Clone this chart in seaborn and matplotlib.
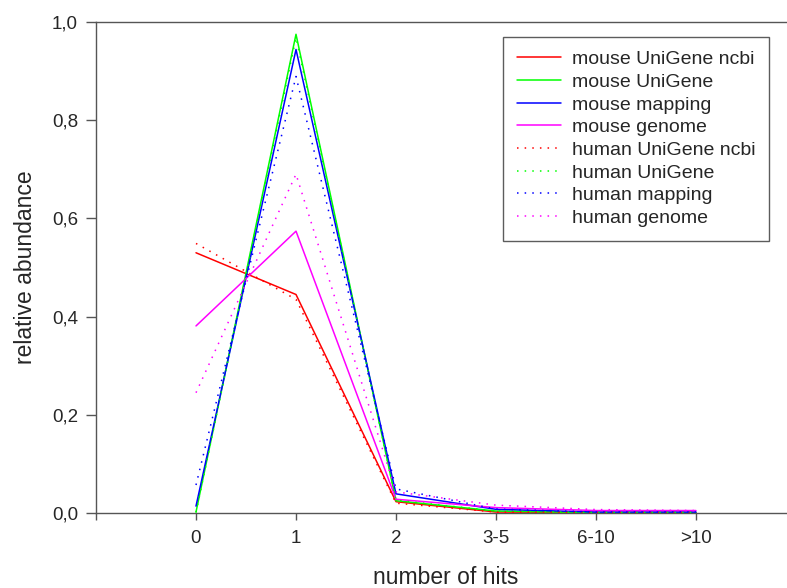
import matplotlib
matplotlib.use("Agg")
import matplotlib.pyplot as plt
import seaborn as sns
import pandas as pd

categories = ["0", "1", "2", "3-5", "6-10", ">10"]

mouse_unigene_ncbi = [0.530, 0.445, 0.023, 0.002, 0.001, 0.001]
mouse_unigene      = [0.002, 0.975, 0.025, 0.004, 0.001, 0.001]
mouse_mapping      = [0.014, 0.944, 0.039, 0.0075, 0.002, 0.002]
mouse_genome       = [0.381, 0.574, 0.028, 0.011, 0.005, 0.005]
human_unigene_ncbi = [0.549, 0.435, 0.020, 0.002, 0.001, 0.001]
human_unigene      = [0.001, 0.968, 0.026, 0.004, 0.001, 0.001]
human_mapping      = [0.057, 0.889, 0.049, 0.008, 0.002, 0.002]
human_genome       = [0.245, 0.690, 0.043, 0.016, 0.007, 0.005]

series_names = ["mouse UniGene ncbi", "mouse UniGene", "mouse mapping", "mouse genome",
                "human UniGene ncbi", "human UniGene", "human mapping", "human genome"]
series_values = [mouse_unigene_ncbi, mouse_unigene, mouse_mapping, mouse_genome,
                 human_unigene_ncbi, human_unigene, human_mapping, human_genome]

colors = ["#FF0000", "#00FF00", "#0000FF", "#FF00FF"] * 2
styles = ["-"] * 4 + [(0, (1, 4))] * 4

sns.set_style("white")
plt.rcParams["font.family"] = ["Liberation Sans", "DejaVu Sans"]

fig = plt.figure(figsize=(7.87, 5.88), dpi=100)
ax = fig.add_axes([96 / 787, 75 / 588, 700 / 787, 491 / 588])

rows = []
for name, vals in zip(series_names, series_values):
    for i, v in enumerate(vals):
        rows.append({"series": name, "pos": i, "value": v})
df = pd.DataFrame(rows)

for name, c, ls in zip(series_names, colors, styles):
    sub = df[df["series"] == name]
    sns.lineplot(data=sub, x="pos", y="value", ax=ax, color=c, linestyle=ls,
                 linewidth=1.1, label=name, legend=False, zorder=3)

ax.set_xlim(-1, 6)
ax.set_ylim(0, 1.0)
ax.set_xticks(range(-1, 6))
ax.set_xticklabels([""] + categories)
yt = [0, 0.2, 0.4, 0.6, 0.8, 1.0]
ax.set_yticks(yt)
ax.set_yticklabels([f"{v:.1f}".replace(".", ",") for v in yt])

for side in ["left", "top", "bottom"]:
    ax.spines[side].set_color("#555555")
    ax.spines[side].set_linewidth(1.0)
ax.spines["right"].set_visible(False)

ax.tick_params(axis="both", direction="out", length=5, width=1, color="#555555",
               labelsize=13.5, pad=7, bottom=True, left=True)
ax.tick_params(axis="y", length=7, pad=6)

ax.set_xlabel("number of hits", fontsize=16.5, labelpad=14)
ax.set_ylabel("relative abundance", fontsize=16.5, labelpad=11)

handles, labels = ax.get_legend_handles_labels()
leg = ax.legend(handles, labels, loc="upper left", bbox_to_anchor=((503 - 96) / 700, (513 - 37) / 491),
                frameon=True, fancybox=False, fontsize=14, handlelength=2.3,
                labelspacing=0.26, borderpad=0.7, handletextpad=0.55, borderaxespad=0)
leg.get_frame().set_edgecolor("#333333")
leg.get_frame().set_linewidth(1.0)

fig.savefig("out.png", dpi=100)
